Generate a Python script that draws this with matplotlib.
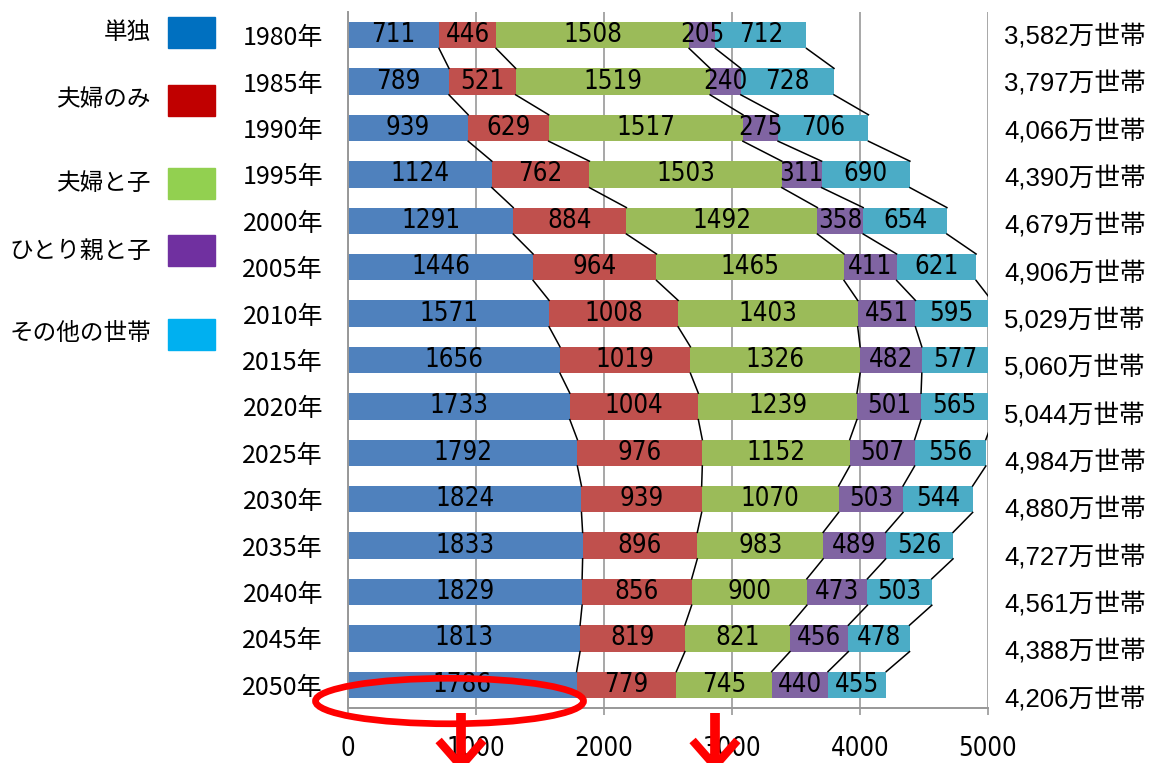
import numpy as np
import matplotlib
matplotlib.use("Agg")
import matplotlib.pyplot as plt
from matplotlib import font_manager
from matplotlib.font_manager import FontProperties
from matplotlib.patches import Ellipse, Rectangle
from matplotlib.lines import Line2D
import matplotlib.transforms as mtransforms

# ---------------- data ----------------
years = ["1980年", "1985年", "1990年", "1995年", "2000年", "2005年", "2010年", "2015年",
         "2020年", "2025年", "2030年", "2035年", "2040年", "2045年", "2050年"]
series_names = ["単独", "夫婦のみ", "夫婦と子", "ひとり親と子", "その他の世帯"]
single = [711, 789, 939, 1124, 1291, 1446, 1571, 1656, 1733, 1792, 1824, 1833, 1829, 1813, 1786]
couple = [446, 521, 629, 762, 884, 964, 1008, 1019, 1004, 976, 939, 896, 856, 819, 779]
couple_child = [1508, 1519, 1517, 1503, 1492, 1465, 1403, 1326, 1239, 1152, 1070, 983, 900, 821, 745]
single_parent = [205, 240, 275, 311, 358, 411, 451, 482, 501, 507, 503, 489, 473, 456, 440]
other = [712, 728, 706, 690, 654, 621, 595, 577, 565, 556, 544, 526, 503, 478, 455]
totals = ["3,582", "3,797", "4,066", "4,390", "4,679", "4,906", "5,029", "5,060",
          "5,044", "4,984", "4,880", "4,727", "4,561", "4,388", "4,206"]
xticks = [0, 1000, 2000, 3000, 4000, 5000]

bar_colors = ["#4F81BD", "#C0504D", "#9BBB59", "#8064A2", "#4BACC6"]
legend_colors = ["#0070C0", "#C00000", "#92D050", "#7030A0", "#00B0F0"]

# ---------------- fonts ----------------
def find_condensed():
    best = None
    best_score = -1
    for f in font_manager.fontManager.ttflist:
        nm = f.name.lower()
        fn = f.fname.lower()
        cond = ("condensed" in nm or "narrow" in nm or "condensed" in fn or "narrow" in fn
                or str(f.stretch).lower() in ("condensed", "semi-condensed", "extra-condensed"))
        if not cond:
            continue
        if f.style != "normal":
            continue
        if "extra" in fn or "ultra" in fn or "semi" in fn or "mono" in fn:
            continue
        w = f.weight if isinstance(f.weight, int) else 400
        if w != 400:
            continue
        score = 1
        for pref in ["liberation", "roboto", "noto", "open", "dejavu"]:
            if pref in nm or pref in fn:
                score = 2
        if score > best_score:
            best, best_score = f, score
    return best

cf = find_condensed()
if cf is not None:
    num_fp = FontProperties(fname=cf.fname, size=18.5)
else:
    num_fp = FontProperties(family="Liberation Sans", size=16)

cjk = ["Noto Sans CJK JP", "DejaVu Sans"]
total_font = ["Liberation Sans", "Noto Sans CJK JP", "DejaVu Sans"]

W, H = 1151, 763
fig = plt.figure(figsize=(W / 100, H / 100), dpi=100)
ax_l, ax_r, ax_t, ax_b = 348, 988, 12, 708
ax = fig.add_axes([ax_l / W, 1 - ax_b / H, (ax_r - ax_l) / W, (ax_b - ax_t) / H])

data = [single, couple, couple_child, single_parent, other]
n = len(years)
y = np.arange(n)
bh = 0.57
xmax = 5000
left = np.zeros(n)
cums = []
for vals, col in zip(data, bar_colors):
    vals = np.array(vals, dtype=float)
    ax.barh(y, vals, left=left, height=bh, color=col, edgecolor="none", zorder=2)
    for i in range(n):
        l = left[i]
        r = min(left[i] + vals[i], xmax)
        ax.text((l + r) / 2, y[i], str(int(vals[i])), ha="center", va="center",
                fontproperties=num_fp, color="black", zorder=4, clip_on=True)
    left = left + vals
    cums.append(left.copy())

# series connector lines
for c in cums:
    for i in range(n - 1):
        ax.plot([c[i], c[i + 1]], [y[i] + bh / 2, y[i + 1] - bh / 2],
                color="black", lw=1.1, zorder=3, clip_on=True)

ax.set_xlim(0, xmax)
ax.set_ylim(n - 0.5, -0.5)
ax.set_xticks(xticks)
ax.set_xticklabels([str(t) for t in xticks])
for lab in ax.get_xticklabels():
    lab.set_fontproperties(num_fp)
ax.set_yticks(y)
ax.set_yticklabels(years, fontsize=18, family=cjk)
ax.tick_params(axis="y", length=0, pad=18)
ax.tick_params(axis="x", length=5, width=1.2, color="#989898", pad=15)
ax.xaxis.grid(True, color="#989898", lw=1.2, zorder=0)
ax.set_axisbelow(True)
for s in ["top", "right"]:
    ax.spines[s].set_visible(False)
for s in ["left", "bottom"]:
    ax.spines[s].set_color("#989898")
    ax.spines[s].set_linewidth(1.4)

# totals on the right
trans = mtransforms.blended_transform_factory(ax.transAxes, ax.transData)
for i, t in enumerate(totals):
    ax.text(1.025, y[i] + 0.04 + 0.02 * i, f"{t}万世帯", transform=trans,
            ha="left", va="center", fontsize=18.5, family=total_font, clip_on=False)

# legend (manual, left side)
leg_y = [32, 100, 183, 251, 334]
for name, col, yy in zip(series_names, legend_colors, leg_y):
    fig.add_artist(Rectangle((168 / W, 1 - (yy + 15.5) / H), 47 / W, 31 / H,
                             transform=fig.transFigure, color=col))
    fig.text(151 / W, 1 - yy / H, name, ha="right", va="center", fontsize=17,
             family=cjk)

# red annotation: ellipse and arrows
ell = Ellipse((793, 14.35), 2094, 0.98, fill=False, edgecolor="#FF0000", lw=4.8,
              transform=ax.transData, clip_on=False, zorder=6)
ax.add_patch(ell)
for ax_x in [883, 2867]:
    ax.add_line(Line2D([ax_x, ax_x], [14.6, 16.0], color="#FF0000", lw=7,
                       solid_capstyle="butt", clip_on=False, zorder=6))
    for dx in (-175, 175):
        ax.add_line(Line2D([ax_x + dx, ax_x], [15.2, 15.75], color="#FF0000", lw=6,
                           solid_capstyle="butt", clip_on=False, zorder=6))

fig.savefig("out.png", dpi=100)
